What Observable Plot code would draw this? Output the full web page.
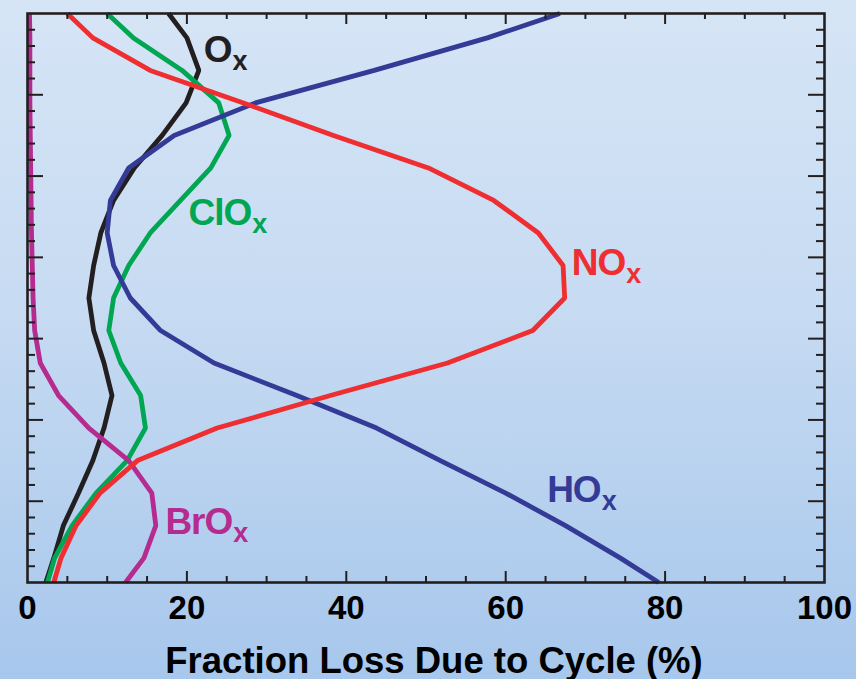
<!DOCTYPE html>
<html>
<head>
<meta charset="utf-8">
<script src="https://cdn.jsdelivr.net/npm/d3@7"></script>
<script src="https://cdn.jsdelivr.net/npm/@observablehq/plot@0.6"></script>
<style>
  html, body { margin: 0; padding: 0; }
  body {
    width: 856px; height: 679px; overflow: hidden;
    background: linear-gradient(to bottom, rgb(214,229,246) 0%, rgb(199,219,242) 45%, rgb(167,199,236) 100%);
    font-family: "Liberation Sans", Arial, sans-serif;
  }
</style>
</head>
<body>
<div id="chart"></div>
<script>
// Altitude levels (km) of the profile vertices
const altitude = [15, 16.5, 18.5, 20.5, 22.5, 24.5, 26.5, 28.5, 30.5, 32.5, 34.5, 36.5, 38.5, 40.5, 42.5, 44.5, 46.5, 48.5, 50];

// Fraction of ozone loss due to each cycle (%)
const NOx  = [3.3, 4.2, 6.1, 9.1, 13.8, 23.8, 38.0, 52.7, 63.4, 67.4, 67.2, 64.1, 58.5, 50.3, 38.4, 27.1, 15.4, 8.2, 5.0];
const HOx  = [79.2, 74.4, 67.5, 60.0, 51.8, 43.8, 33.8, 23.4, 16.7, 12.9, 10.8, 10.0, 10.4, 12.7, 18.4, 28.6, 43.5, 57.7, 66.8];
const Ox   = [2.3, 3.3, 4.5, 6.4, 8.2, 9.6, 10.6, 9.6, 8.3, 7.7, 8.3, 9.2, 10.8, 13.4, 16.9, 19.9, 21.5, 20.0, 17.7];
const ClOx = [2.5, 3.4, 5.6, 8.6, 12.5, 14.8, 14.2, 11.7, 10.2, 10.8, 12.7, 15.4, 19.2, 23.0, 25.3, 24.0, 19.4, 13.3, 10.0];
const BrOx = [12.3, 14.6, 16.1, 15.6, 12.7, 7.7, 3.9, 1.6, 0.9, 0.7, 0.6, 0.5, 0.45, 0.4, 0.35, 0.3, 0.3, 0.3, 0.25];

// Tick values
const xTickLabels = [0, 20, 40, 60, 80, 100];
const xMajorTicks = [20, 40, 60, 80];
const xMinorTicks = d3.range(5, 100, 5).filter(d => d % 20 !== 0);
const yMajorTicks = [20, 25, 30, 35, 40, 45];
const yMinorTicks = d3.range(16, 50, 1).filter(d => d % 5 !== 0);

const xTitle = "Fraction Loss Due to Cycle (%)";

// Series styling and labels (label anchor in data units: % and km)
const seriesNames  = ["Ox", "ClOx", "BrOx", "HOx", "NOx"];
const seriesValues = [Ox, ClOx, BrOx, HOx, NOx];
const seriesColors = ["#231f20", "#00a651", "#b52b8f", "#333b96", "#ee2e31"];
const labelMain = ["O", "ClO", "BrO", "HO", "NO"];
const labelSub  = "x";
const labelX    = [22.1, 20.2, 17.3, 65.2, 68.3];
const labelY    = [47.0, 36.96, 18.0, 19.94, 33.92];

const W = 856, H = 679;
const mL = 27, mR = 32, mT = 13, mB = 97;
const pW = W - mL - mR, pH = H - mT - mB;
const ink = "#231f20";

const marks = [];
seriesValues.forEach((vals, i) => {
  const rows = altitude.map((a, j) => ({alt: a, v: vals[j]}));
  marks.push(Plot.line(rows, {
    x: "v", y: "alt",
    stroke: seriesColors[i], strokeWidth: 4.8,
    strokeLinejoin: "miter", strokeLinecap: "butt", curve: "linear"
  }));
});

// inward ticks on all four sides
marks.push(
  Plot.tickX(xMinorTicks, {x: d => d, insetTop: pH - 6, stroke: ink, strokeWidth: 2}),
  Plot.tickX(xMajorTicks, {x: d => d, insetTop: pH - 11, stroke: ink, strokeWidth: 2}),
  Plot.tickX(xMinorTicks, {x: d => d, insetBottom: pH - 6, stroke: ink, strokeWidth: 2}),
  Plot.tickX(xMajorTicks, {x: d => d, insetBottom: pH - 11, stroke: ink, strokeWidth: 2}),
  Plot.tickY(yMinorTicks, {y: d => d, insetRight: pW - 8, stroke: ink, strokeWidth: 2}),
  Plot.tickY(yMajorTicks, {y: d => d, insetRight: pW - 16, stroke: ink, strokeWidth: 2}),
  Plot.tickY(yMinorTicks, {y: d => d, insetLeft: pW - 8, stroke: ink, strokeWidth: 2}),
  Plot.tickY(yMajorTicks, {y: d => d, insetLeft: pW - 16, stroke: ink, strokeWidth: 2}),
  Plot.frame({stroke: ink, strokeWidth: 2.6})
);

marks.push(
  Plot.axisX({ticks: xTickLabels, tickSize: 0, tickPadding: 13, fontSize: 33, fontWeight: "bold", fill: "#000", label: null, tickFormat: d => String(d)})
);

marks.push(
  Plot.text([xTitle], {frameAnchor: "bottom", dx: 8, dy: 90, lineAnchor: "bottom", textAnchor: "middle",
    fontSize: 36.5, fontWeight: "bold", fill: "#000", text: d => d})
);

// series labels
labelMain.forEach((t, i) => {
  marks.push(Plot.text([{t, x: labelX[i], y: labelY[i]}], {
    x: "x", y: "y", text: "t", textAnchor: "start", lineAnchor: "bottom",
    fill: seriesColors[i], fontSize: 37, fontWeight: "bold"
  }));
});

const chart = Plot.plot({
  width: W, height: H,
  marginLeft: mL, marginRight: mR, marginTop: mT, marginBottom: mB,
  x: {domain: [0, 100], axis: null},
  y: {domain: [15, 50], axis: null},
  style: {background: "transparent", fontFamily: "'Liberation Sans', Arial, sans-serif", overflow: "visible"},
  marks
});

// add subscript "x" to each series label
d3.select(chart).selectAll("text").each(function() {
  const txt = this.textContent;
  if (labelMain.includes(txt)) {
    d3.select(this).attr("letter-spacing", "-1px");
    d3.select(this).append("tspan")
      .attr("dy", 8)
      .attr("dx", 1)
      .attr("font-size", 27)
      .attr("letter-spacing", "0px")
      .text(labelSub);
  }
});

document.getElementById("chart").appendChild(chart);
</script>
</body>
</html>
